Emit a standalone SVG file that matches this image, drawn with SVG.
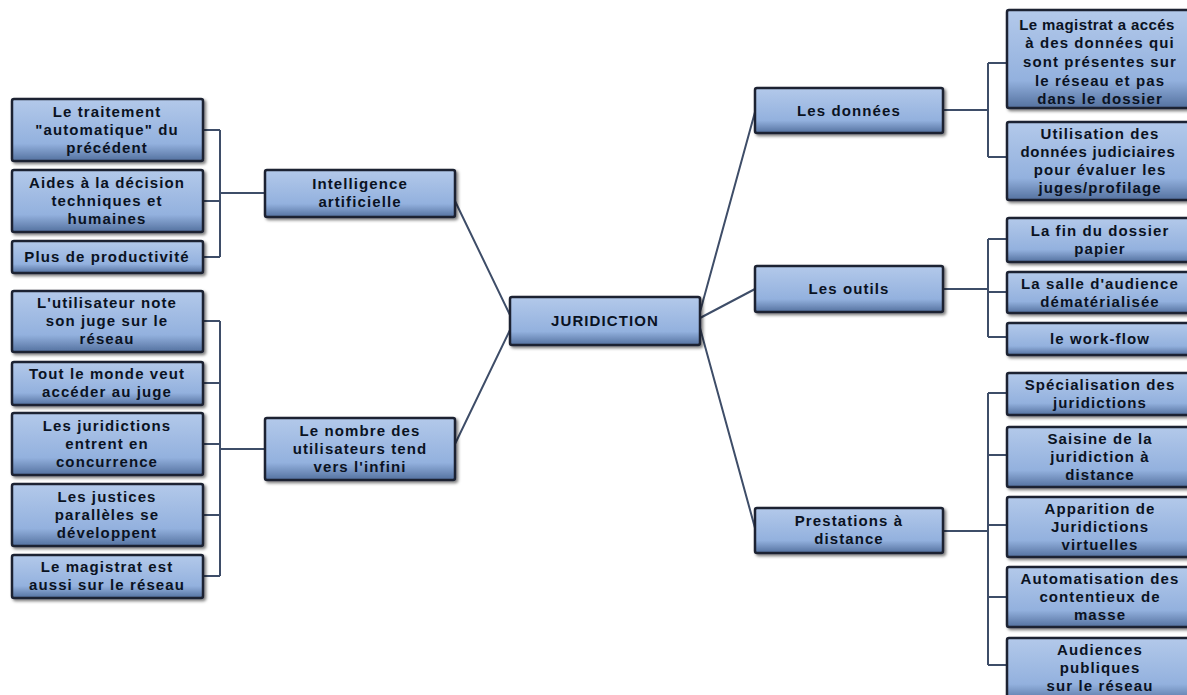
<svg xmlns="http://www.w3.org/2000/svg" width="1187" height="695" viewBox="0 0 1187 695">
<defs>
<linearGradient id="g" x1="0" y1="0" x2="0" y2="1">
<stop offset="0" stop-color="#b3c9ea"/>
<stop offset="0.72" stop-color="#93b1de"/>
<stop offset="1" stop-color="#54719f"/>
</linearGradient>
<filter id="sh" x="-10%" y="-10%" width="125%" height="130%">
<feDropShadow dx="2" dy="2" stdDeviation="1.5" flood-color="#000" flood-opacity="0.5"/>
</filter>
</defs>
<style>
.b{fill:url(#g);stroke:#1c2233;stroke-width:2.5;filter:url(#sh)}
.t{font-family:"Liberation Sans",Arial,sans-serif;font-weight:700;font-size:15px;letter-spacing:1.1px;fill:#0a1222;text-anchor:middle}
.c{fill:none;stroke:#3e4d68;stroke-width:2}
</style>
<rect width="1187" height="695" fill="#fff"/>
<g id="connectors">
<path class="c" d="M203 130H220M203 201H220M203 257H220M220 130V257M220 193H265"/>
<path class="c" d="M203 321H220M203 383H220M203 444H220M203 515H220M203 576H220M220 321V576M220 449H265"/>
<path class="c" d="M455 201L510 315M455 444L510 330"/>
<path class="c" d="M700 312L755 112M700 318L755 289M700 328L755 528"/>
<path class="c" d="M943 110H988M988 63V157M988 63H1007M988 157H1007"/>
<path class="c" d="M943 289H988M988 239V337M988 239H1007M988 292H1007M988 337H1007"/>
<path class="c" d="M943 531H988M988 393V665M988 393H1007M988 455H1007M988 525H1007M988 597H1007M988 665H1007"/>
</g>
<g id="n-center"><rect class="b" x="510" y="297" width="190" height="48" rx="2"/><text class="t" x="605" y="326">JURIDICTION</text></g>
<g id="n-ia"><rect class="b" x="265" y="170" width="190" height="47" rx="2"/><text class="t" x="360" y="189">Intelligence</text><text class="t" x="360" y="207">artificielle</text></g>
<g id="n-nombre"><rect class="b" x="265" y="418" width="190" height="62" rx="2"/><text class="t" x="360" y="436">Le nombre des</text><text class="t" x="360" y="454">utilisateurs tend</text><text class="t" x="360" y="472">vers l'infini</text></g>
<g id="n-l1"><rect class="b" x="12" y="99" width="191" height="62" rx="2"/><text class="t" x="107" y="117">Le traitement</text><text class="t" x="107" y="135">"automatique" du</text><text class="t" x="107" y="153">précédent</text></g>
<g id="n-l2"><rect class="b" x="12" y="170" width="191" height="62" rx="2"/><text class="t" x="107" y="188">Aides à la décision</text><text class="t" x="107" y="206">techniques et</text><text class="t" x="107" y="224">humaines</text></g>
<g id="n-l3"><rect class="b" x="12" y="241" width="191" height="32" rx="2"/><text class="t" x="107" y="262">Plus de productivité</text></g>
<g id="n-l4"><rect class="b" x="12" y="291" width="191" height="61" rx="2"/><text class="t" x="107" y="308">L'utilisateur note</text><text class="t" x="107" y="326">son juge sur le</text><text class="t" x="107" y="344">réseau</text></g>
<g id="n-l5"><rect class="b" x="12" y="362" width="191" height="43" rx="2"/><text class="t" x="107" y="379">Tout le monde veut</text><text class="t" x="107" y="397">accéder au juge</text></g>
<g id="n-l6"><rect class="b" x="12" y="413" width="191" height="62" rx="2"/><text class="t" x="107" y="431">Les juridictions</text><text class="t" x="107" y="449">entrent en</text><text class="t" x="107" y="467">concurrence</text></g>
<g id="n-l7"><rect class="b" x="12" y="484" width="191" height="62" rx="2"/><text class="t" x="107" y="502">Les justices</text><text class="t" x="107" y="520">parallèles se</text><text class="t" x="107" y="538">développent</text></g>
<g id="n-l8"><rect class="b" x="12" y="555" width="191" height="43" rx="2"/><text class="t" x="107" y="572">Le magistrat est</text><text class="t" x="107" y="590">aussi sur le réseau</text></g>
<g id="n-donnees"><rect class="b" x="755" y="88" width="188" height="45" rx="2"/><text class="t" x="849" y="116">Les données</text></g>
<g id="n-outils"><rect class="b" x="755" y="266" width="188" height="46" rx="2"/><text class="t" x="849" y="294">Les outils</text></g>
<g id="n-prest"><rect class="b" x="755" y="508" width="188" height="45" rx="2"/><text class="t" x="849" y="526">Prestations à</text><text class="t" x="849" y="544">distance</text></g>
<g id="n-r1"><rect class="b" x="1007" y="10" width="190" height="98" rx="2"/><text class="t" x="1097" y="30" style="letter-spacing:0.4px">Le magistrat a accés</text><text class="t" x="1100" y="48">à des données qui</text><text class="t" x="1100" y="67">sont présentes sur</text><text class="t" x="1100" y="86">le réseau et pas</text><text class="t" x="1100" y="104">dans le dossier</text></g>
<g id="n-r2"><rect class="b" x="1007" y="122" width="190" height="78" rx="2"/><text class="t" x="1100" y="139">Utilisation des</text><text class="t" x="1098" y="157" style="letter-spacing:0.8px">données judiciaires</text><text class="t" x="1100" y="175">pour évaluer les</text><text class="t" x="1100" y="193">juges/profilage</text></g>
<g id="n-r3"><rect class="b" x="1007" y="218" width="190" height="44" rx="2"/><text class="t" x="1100" y="236">La fin du dossier</text><text class="t" x="1100" y="254">papier</text></g>
<g id="n-r4"><rect class="b" x="1007" y="272" width="190" height="41" rx="2"/><text class="t" x="1100" y="289">La salle d'audience</text><text class="t" x="1100" y="307">dématérialisée</text></g>
<g id="n-r5"><rect class="b" x="1007" y="323" width="190" height="32" rx="2"/><text class="t" x="1100" y="344">le work-flow</text></g>
<g id="n-r6"><rect class="b" x="1007" y="373" width="190" height="42" rx="2"/><text class="t" x="1100" y="390">Spécialisation des</text><text class="t" x="1100" y="408">juridictions</text></g>
<g id="n-r7"><rect class="b" x="1007" y="427" width="190" height="60" rx="2"/><text class="t" x="1100" y="444">Saisine de la</text><text class="t" x="1100" y="462">juridiction à</text><text class="t" x="1100" y="480">distance</text></g>
<g id="n-r8"><rect class="b" x="1007" y="497" width="190" height="60" rx="2"/><text class="t" x="1100" y="514">Apparition de</text><text class="t" x="1100" y="532">Juridictions</text><text class="t" x="1100" y="550">virtuelles</text></g>
<g id="n-r9"><rect class="b" x="1007" y="567" width="190" height="60" rx="2"/><text class="t" x="1100" y="584">Automatisation des</text><text class="t" x="1100" y="602">contentieux de</text><text class="t" x="1100" y="620">masse</text></g>
<g id="n-r10"><rect class="b" x="1007" y="638" width="190" height="64" rx="2"/><text class="t" x="1100" y="655">Audiences</text><text class="t" x="1100" y="673">publiques</text><text class="t" x="1100" y="691">sur le réseau</text></g>
</svg>
